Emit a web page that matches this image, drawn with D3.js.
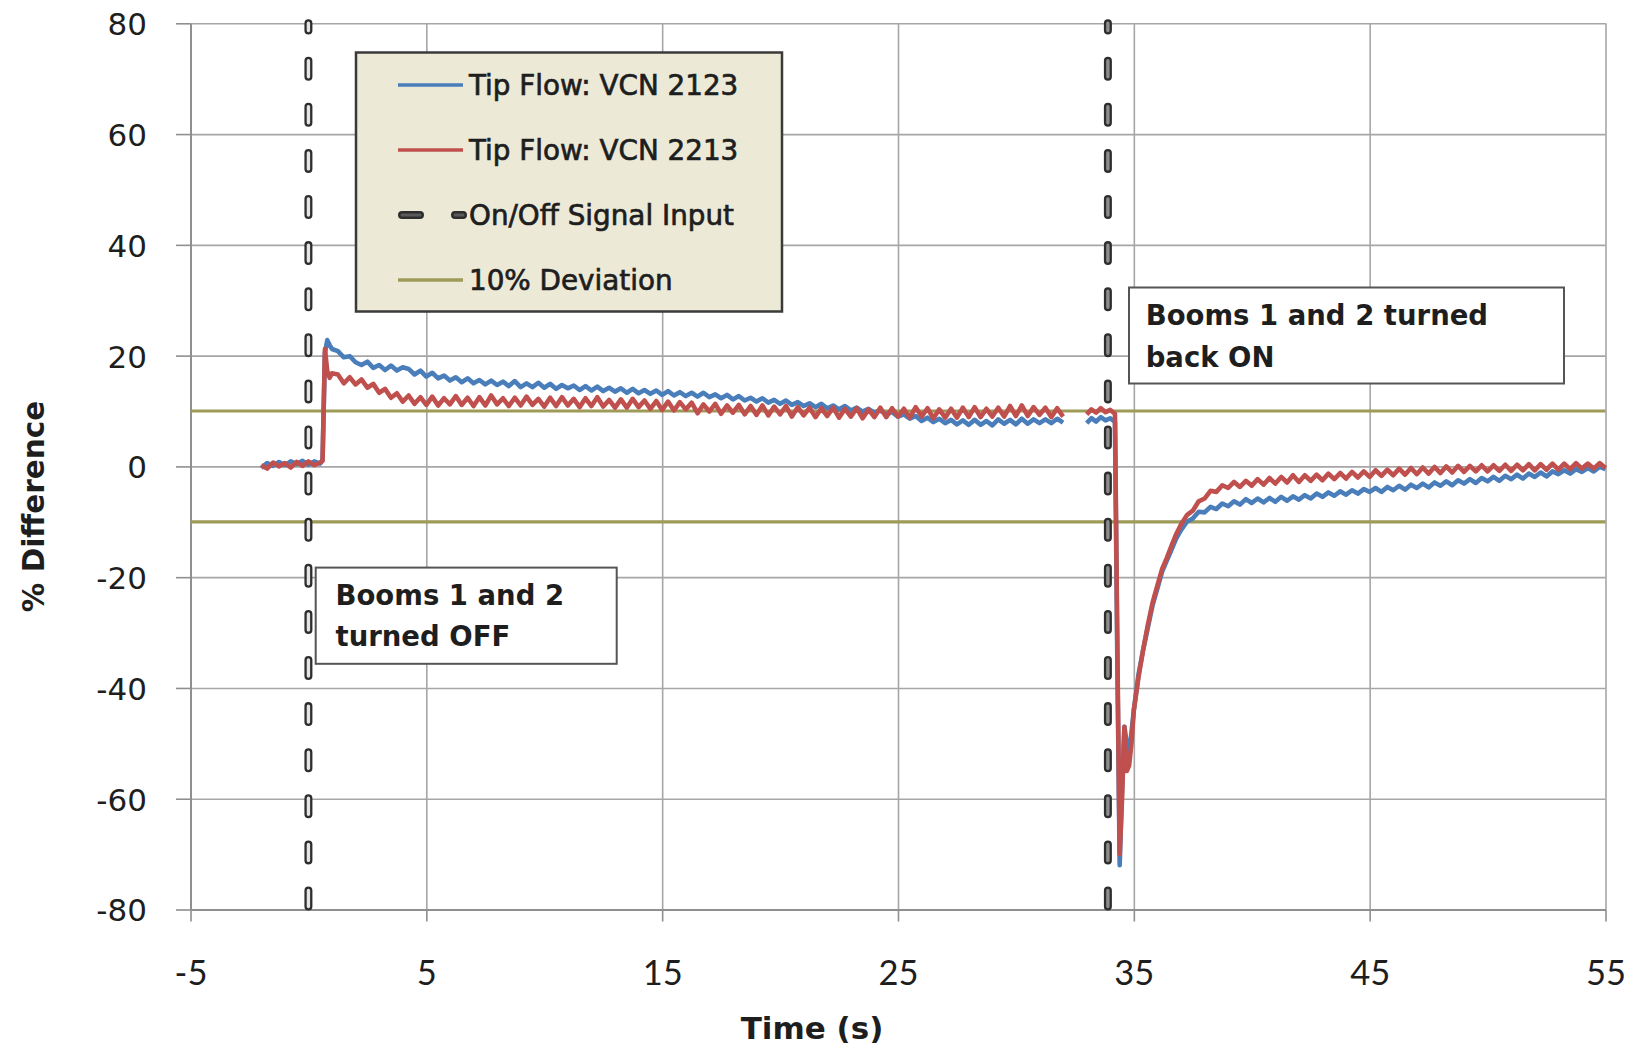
<!DOCTYPE html>
<html>
<head>
<meta charset="utf-8">
<script src="https://cdn.jsdelivr.net/npm/d3@7"></script>
<style>
  html, body { margin: 0; padding: 0; background: #ffffff; }
  svg { display: block; }
</style>
</head>
<body>
<svg id="chart" width="1639" height="1049"></svg>
<script>
// Sample times (s); 32.5 marks the gap in logging between the two segments.
const time = [
  -2, -1.75, -1.5, -1.25, -1, -0.75, -0.5, -0.25, 0, 0.25, 0.5,
  0.6, 0.7, 0.8, 0.9, 1,
  1.25, 1.5, 1.75, 2,
  2.25, 2.5, 2.75, 3,
  3.25, 3.5, 3.75, 4,
  4.25, 4.5, 4.75, 5,
  5.25, 5.5, 5.75, 6,
  6.25, 6.5, 6.75, 7,
  7.25, 7.5, 7.75, 8,
  8.25, 8.5, 8.75, 9,
  9.25, 9.5, 9.75, 10,
  10.25, 10.5, 10.75, 11,
  11.25, 11.5, 11.75, 12,
  12.25, 12.5, 12.75, 13,
  13.25, 13.5, 13.75, 14,
  14.25, 14.5, 14.75, 15,
  15.25, 15.5, 15.75, 16,
  16.25, 16.5, 16.75, 17,
  17.25, 17.5, 17.75, 18,
  18.25, 18.5, 18.75, 19,
  19.25, 19.5, 19.75, 20,
  20.25, 20.5, 20.75, 21,
  21.25, 21.5, 21.75, 22,
  22.25, 22.5, 22.75, 23,
  23.25, 23.5, 23.75, 24,
  24.25, 24.5, 24.75, 25,
  25.25, 25.5, 25.75, 26,
  26.25, 26.5, 26.75, 27,
  27.25, 27.5, 27.75, 28,
  28.25, 28.5, 28.75, 29,
  29.25, 29.5, 29.75, 30,
  30.25, 30.5, 30.75, 31,
  31.25, 31.5, 31.75, 32,
  32.5,
  33, 33.2, 33.4, 33.6, 33.8, 34, 34.2,
  34.3, 34.4, 34.5, 34.6, 34.7, 34.8, 34.9, 35,
  35.2, 35.4, 35.6, 35.8, 36, 36.2, 36.4, 36.6, 36.8, 37,
  37.25, 37.5, 37.75, 38,
  38.25, 38.5, 38.75, 39,
  39.25, 39.5, 39.75, 40,
  40.25, 40.5, 40.75, 41,
  41.25, 41.5, 41.75, 42,
  42.25, 42.5, 42.75, 43,
  43.25, 43.5, 43.75, 44,
  44.25, 44.5, 44.75, 45,
  45.25, 45.5, 45.75, 46,
  46.25, 46.5, 46.75, 47,
  47.25, 47.5, 47.75, 48,
  48.25, 48.5, 48.75, 49,
  49.25, 49.5, 49.75, 50,
  50.25, 50.5, 50.75, 51,
  51.25, 51.5, 51.75, 52,
  52.25, 52.5, 52.75, 53,
  53.25, 53.5, 53.75, 54,
  54.25, 54.5, 54.75, 55
];

// Tip flow, VCN 2123 (% difference)
const vcn2123 = [
  -0.3, 0.6, 0.1, 0.8, 0.2, 0.9, 0.4, 1.0, 0.3, 0.9, 0.5,
  1.2, 20.5, 22.8, 21.9, 21.2,
  20.8, 19.7, 19.9, 18.8,
  18.3, 18.9, 17.8, 18.3,
  17.4, 18.2, 17.3, 17.9,
  17.6, 16.6, 17.3, 16.2,
  16.9, 15.9, 16.4, 15.5,
  16.1, 15.2, 15.9, 15.0,
  15.6, 14.8, 15.5, 14.7,
  15.3, 14.5, 15.4, 14.3,
  15.0, 14.3, 15.1, 14.2,
  14.9, 14.0, 14.7, 14.1,
  14.6, 13.8, 14.5, 13.7,
  14.4, 13.6, 14.2, 13.5,
  14.1, 13.3, 14.0, 13.2,
  13.8, 13.1, 13.7, 12.9,
  13.6, 12.8, 13.4, 12.7,
  13.3, 12.6, 13.3, 12.5,
  13.0, 12.3, 12.9, 12.1,
  12.7, 11.9, 12.4, 11.7,
  12.3, 11.5, 12.0, 11.3,
  11.9, 11.1, 11.6, 10.9,
  11.4, 10.7, 11.3, 10.5,
  11.0, 10.3, 10.9, 10.1,
  10.6, 9.9, 10.4, 9.7,
  10.1, 9.4, 9.8, 9.0,
  9.4, 8.6, 9.1, 8.2,
  8.8, 8.0, 8.6, 7.8,
  8.4, 7.6, 8.3, 7.5,
  8.4, 7.5, 8.2, 7.4,
  8.5, 7.7, 8.4, 7.6,
  8.6, 7.7, 8.5, 7.8,
  8.5, 7.8, 8.6, 7.9,
  null,
  7.8, 8.7, 8.1, 8.9, 8.3, 8.7, 8.0,
  -35, -72, -58, -47, -50, -52, -48, -44,
  -37.5, -33, -29, -25, -22, -19, -17, -15, -13, -11.5,
  -10.0, -9.4, -8.2, -8.3,
  -7.3, -7.7, -6.7, -7.2,
  -6.3, -6.9, -5.9, -6.6,
  -5.8, -6.5, -5.7, -6.4,
  -5.5, -6.2, -5.4, -6.0,
  -5.2, -5.8, -4.9, -5.5,
  -4.7, -5.3, -4.5, -5.1,
  -4.3, -4.9, -4.1, -4.6,
  -3.9, -4.6, -3.7, -4.3,
  -3.5, -4.2, -3.3, -3.9,
  -3.1, -3.8, -2.9, -3.5,
  -2.7, -3.4, -2.5, -3.1,
  -2.3, -3.0, -2.1, -2.7,
  -1.9, -2.6, -1.7, -2.3,
  -1.5, -2.2, -1.3, -1.9,
  -1.1, -1.8, -0.9, -1.4,
  -0.7, -1.3, -0.5, -1.0,
  -0.3, -0.9, -0.1, -0.5
];

// Tip flow, VCN 2213 (% difference)
const vcn2213 = [
  0.2, -0.4, 0.7, 0.0, 0.6, -0.2, 0.8, 0.1, 0.9, 0.2, 0.7,
  1.0, 21.2, 17.2, 16.0, 16.8,
  16.6, 15.0, 16.1, 14.8,
  15.7, 14.2, 14.9, 13.3,
  14.0, 12.4, 13.2, 11.7,
  12.8, 11.3, 12.5, 11.1,
  12.6, 11.0, 12.3, 11.2,
  12.7, 11.1, 12.4, 10.9,
  12.5, 11.0, 12.8, 11.2,
  12.3, 10.9, 12.4, 11.0,
  12.6, 11.1, 12.2, 10.8,
  12.4, 10.9, 12.5, 11.0,
  12.2, 10.7, 12.3, 10.9,
  12.5, 10.8, 12.0, 10.6,
  12.1, 10.6, 12.2, 10.7,
  11.9, 10.4, 11.8, 10.2,
  11.7, 10.1, 11.6, 10.3,
  11.5, 9.6, 11.2, 9.9,
  11.3, 9.5, 11.0, 9.7,
  11.1, 9.4, 10.9, 9.3,
  11.0, 9.2, 10.8, 9.4,
  10.9, 9.0, 10.7, 9.2,
  10.6, 8.9, 10.5, 9.1,
  10.6, 8.8, 10.4, 9.0,
  10.5, 8.7, 10.3, 8.9,
  10.6, 8.9, 10.5, 9.0,
  10.4, 8.8, 10.7, 9.0,
  10.5, 8.7, 10.3, 8.8,
  10.4, 8.8, 10.6, 8.9,
  10.7, 8.9, 10.4, 9.0,
  10.6, 9.0, 10.9, 9.1,
  11.0, 9.1, 10.7, 9.3,
  10.6, 8.9, 10.5, 9.0,
  null,
  9.4, 10.3, 9.7, 10.5, 9.8, 10.2, 9.5,
  -32, -70, -60, -47, -55, -54, -50, -44,
  -38, -33, -28.5, -24.5, -21.5, -18.5, -16.5, -14.3, -12.2, -10.5,
  -8.8, -8.0, -6.3, -5.8,
  -4.4, -4.6, -3.4, -3.9,
  -2.8, -3.7, -2.6, -3.5,
  -2.3, -3.3, -2.1, -3.1,
  -1.9, -2.9, -1.6, -2.8,
  -1.6, -2.6, -1.5, -2.5,
  -1.3, -2.3, -1.2, -2.2,
  -1.0, -2.0, -0.9, -1.9,
  -0.7, -1.7, -0.6, -1.6,
  -0.4, -1.5, -0.3, -1.4,
  -0.2, -1.3, -0.1, -1.2,
  0.0, -1.1, 0.1, -1.0,
  0.1, -0.9, 0.2, -0.9,
  0.2, -0.8, 0.3, -0.8,
  0.3, -0.7, 0.4, -0.7,
  0.4, -0.6, 0.5, -0.6,
  0.5, -0.5, 0.6, -0.4,
  0.5, -0.4, 0.6, -0.3
];

// On/Off signal input switching times (s)
const signalTimes = [0, 33.9];
// +/-10 % deviation band
const deviationLevels = [10, -10];
const deviationSpan = [-5, 55];

const xTicks = [-5, 5, 15, 25, 35, 45, 55];
const yTicks = [-80, -60, -40, -20, 0, 20, 40, 60, 80];

const legendLabels = ["Tip Flow: VCN 2123", "Tip Flow: VCN 2213", "On/Off Signal Input", "10% Deviation"];
const offNote = ["Booms 1 and 2", "turned OFF"];
const onNote = ["Booms 1 and 2 turned", "back ON"];
const xTitle = "Time (s)";
const yTitle = "% Difference";

// ---- styling ----
const blue = "#4a7ebb";
const red = "#c0504d";
const olive = "#9e9a58";
const gridColor = "#a6a6a6";
const axisColor = "#8f8f8f";
const textColor = "#1e1e1e";
const dashEdge = "#2e2e2e";
const signalFills = ["#e4e4e4", "#8d8d8d"];

const svg = d3.select("#chart");

const x = d3.scaleLinear().domain([-5, 55]).range([190.5, 1605.5]);
const y = d3.scaleLinear().domain([-80, 80]).range([909.5, 23.3]);
const plotW = x(55) - x(-5);
const plotH = y(-80) - y(80);

// ---- gridlines ----
svg.append("g")
  .attr("transform", `translate(0,${y(-80)})`)
  .call(d3.axisBottom(x).tickValues(xTicks).tickSize(-plotH).tickFormat(""))
  .call(g => g.select(".domain").remove())
  .call(g => g.selectAll(".tick line").attr("stroke", gridColor).attr("stroke-width", 1.6));

svg.append("g")
  .attr("transform", `translate(${x(-5)},0)`)
  .call(d3.axisLeft(y).tickValues(yTicks).tickSize(-plotW).tickFormat(""))
  .call(g => g.select(".domain").remove())
  .call(g => g.selectAll(".tick line").attr("stroke", gridColor).attr("stroke-width", 1.6));

// ---- axes ----
const xAxis = svg.append("g")
  .attr("transform", `translate(0,${y(-80)})`)
  .call(d3.axisBottom(x).tickValues(xTicks).tickSize(12).tickSizeOuter(0).tickFormat(d => String(d)));
xAxis.select(".domain").attr("stroke", axisColor).attr("stroke-width", 2);
xAxis.selectAll(".tick line").attr("stroke", axisColor).attr("stroke-width", 1.6);
xAxis.selectAll(".tick text")
  .attr("y", 75.5).attr("dy", null)
  .attr("font-family", "Lato, 'Open Sans', sans-serif")
  .attr("font-size", 34.5)
  .attr("fill", textColor);

const yAxis = svg.append("g")
  .attr("transform", `translate(${x(-5)},0)`)
  .call(d3.axisLeft(y).tickValues(yTicks).tickSize(14.5).tickPadding(29).tickSizeOuter(0).tickFormat(d => String(d)));
yAxis.select(".domain").attr("stroke", axisColor).attr("stroke-width", 2);
yAxis.selectAll(".tick line").attr("stroke", axisColor).attr("stroke-width", 1.6);
yAxis.selectAll(".tick text")
  .attr("dy", "0.37em")
  .attr("font-family", "'DejaVu Sans', Verdana, sans-serif")
  .attr("font-size", 31)
  .attr("fill", textColor);

// ---- 10 % deviation lines ----
svg.append("g").selectAll("line")
  .data(deviationLevels)
  .join("line")
  .attr("x1", x(deviationSpan[0])).attr("x2", x(deviationSpan[1]))
  .attr("y1", d => y(d)).attr("y2", d => y(d))
  .attr("stroke", olive).attr("stroke-width", 3.2);

// ---- tip-flow series ----
const points = v => time.map((t, i) => ({ t, v: v[i] }));
const line = d3.line()
  .defined(d => d.v !== null)
  .x(d => x(d.t))
  .y(d => y(d.v));

svg.append("path")
  .datum(points(vcn2123))
  .attr("d", line)
  .attr("fill", "none").attr("stroke", blue)
  .attr("stroke-width", 4.6).attr("stroke-linejoin", "round");

svg.append("path")
  .datum(points(vcn2213))
  .attr("d", line)
  .attr("fill", "none").attr("stroke", red)
  .attr("stroke-width", 4.6).attr("stroke-linejoin", "round");

// ---- on/off signal (outlined capsule dashes) ----
const sig = svg.append("g").selectAll("g")
  .data(signalTimes)
  .join("g");
sig.append("line")
  .attr("x1", d => x(d)).attr("x2", d => x(d))
  .attr("y1", y(80)).attr("y2", y(-80))
  .attr("stroke", dashEdge).attr("stroke-width", 8)
  .attr("stroke-linecap", "round")
  .attr("stroke-dasharray", "16 30.1").attr("stroke-dashoffset", 8.7);
sig.append("line")
  .attr("x1", d => x(d)).attr("x2", d => x(d))
  .attr("y1", y(80)).attr("y2", y(-80))
  .attr("stroke", (d, i) => signalFills[i]).attr("stroke-width", 3.4)
  .attr("stroke-linecap", "round")
  .attr("stroke-dasharray", "16 30.1").attr("stroke-dashoffset", 8.7);

// ---- legend ----
const legend = svg.append("g");
legend.append("rect")
  .attr("x", 356).attr("y", 52.5).attr("width", 426).attr("height", 259)
  .attr("fill", "#ece9d7").attr("stroke", "#3a3a3a").attr("stroke-width", 2.5);

const legendRowY = [85, 150, 215, 280];
const sampleX0 = 398, sampleX1 = 463;
// solid samples
[[0, blue], [1, red], [3, olive]].forEach(([row, color]) => {
  legend.append("line")
    .attr("x1", sampleX0).attr("x2", sampleX1)
    .attr("y1", legendRowY[row]).attr("y2", legendRowY[row])
    .attr("stroke", color).attr("stroke-width", 3.4);
});
// dashed sample for the signal
legend.append("line")
  .attr("x1", sampleX0 + 4).attr("x2", sampleX1)
  .attr("y1", legendRowY[2]).attr("y2", legendRowY[2])
  .attr("stroke", dashEdge).attr("stroke-width", 8)
  .attr("stroke-linecap", "round").attr("stroke-dasharray", "18 35");
legend.append("line")
  .attr("x1", sampleX0 + 4).attr("x2", sampleX1)
  .attr("y1", legendRowY[2]).attr("y2", legendRowY[2])
  .attr("stroke", "#5a5a5a").attr("stroke-width", 3)
  .attr("stroke-linecap", "round").attr("stroke-dasharray", "18 35");

legend.selectAll("text")
  .data(legendLabels)
  .join("text")
  .attr("x", 469)
  .attr("y", (d, i) => legendRowY[i] + 10)
  .attr("font-family", "'DejaVu Sans', Verdana, sans-serif")
  .attr("font-size", 27.8)
  .attr("fill", textColor)
  .attr("stroke", textColor).attr("stroke-width", 0.7)
  .text(d => d);

// ---- annotation boxes ----
function note(lines, bx, by, bw, bh, tx, baselines) {
  const g = svg.append("g");
  g.append("rect")
    .attr("x", bx).attr("y", by).attr("width", bw).attr("height", bh)
    .attr("fill", "#ffffff").attr("stroke", "#555555").attr("stroke-width", 2);
  g.selectAll("text")
    .data(lines)
    .join("text")
    .attr("x", tx)
    .attr("y", (d, i) => baselines[i])
    .attr("font-family", "'DejaVu Sans', Verdana, sans-serif")
    .attr("font-weight", "bold")
    .attr("font-size", 27.5)
    .attr("fill", textColor)
    .text(d => d);
}
note(offNote, 315.7, 567.6, 301, 96.2, 335.5, [605, 646]);
note(onNote, 1129, 287.5, 435, 96, 1145.7, [325, 367]);

// ---- axis titles ----
svg.append("text")
  .attr("x", 812).attr("y", 1039)
  .attr("text-anchor", "middle")
  .attr("font-family", "'DejaVu Sans', Verdana, sans-serif")
  .attr("font-weight", "bold")
  .attr("font-size", 31)
  .attr("fill", textColor)
  .text(xTitle);

svg.append("text")
  .attr("transform", "translate(44,506.5) rotate(-90)")
  .attr("text-anchor", "middle")
  .attr("font-family", "'DejaVu Sans', Verdana, sans-serif")
  .attr("font-weight", "bold")
  .attr("font-size", 29.5)
  .attr("fill", textColor)
  .text(yTitle);
</script>
</body>
</html>
